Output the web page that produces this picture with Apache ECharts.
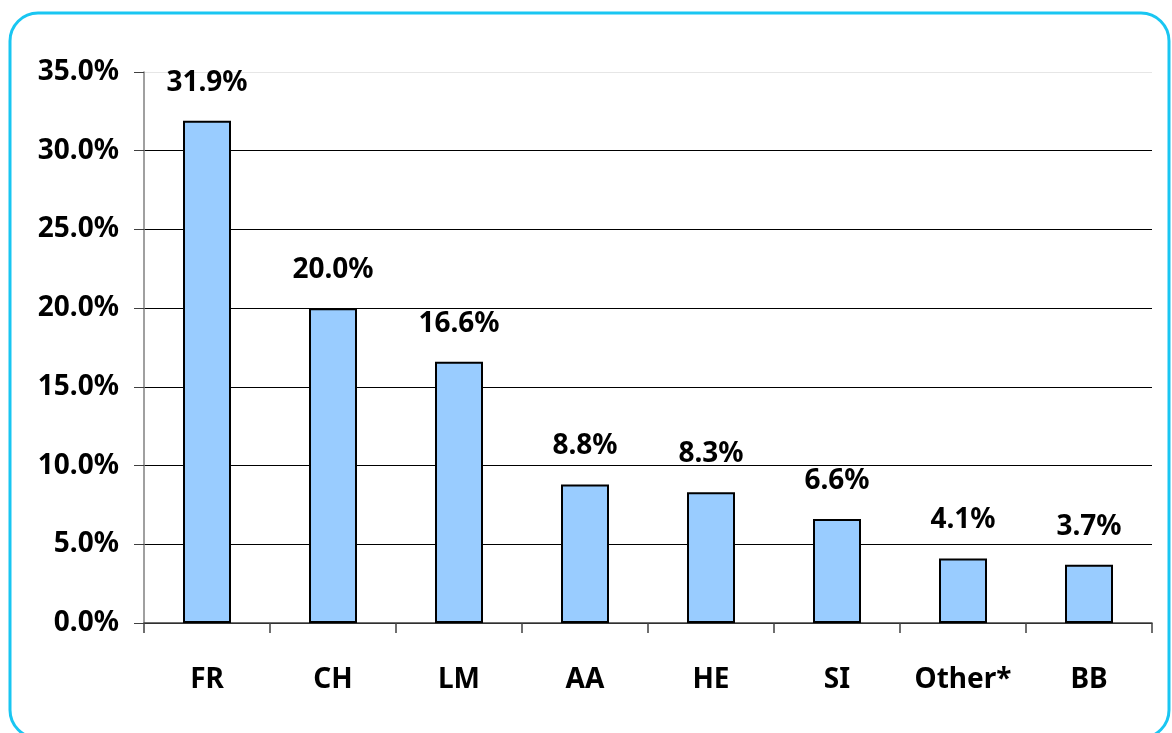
<!DOCTYPE html>
<html>
<head>
<meta charset="utf-8">
<script src="https://cdn.jsdelivr.net/npm/echarts@6/dist/echarts.min.js"></script>
<style>
  html, body { margin: 0; padding: 0; background: #fff; }
  #main { width: 1172px; height: 733px; }
</style>
</head>
<body>
<div id="main"></div>
<script>
// data
const categories = ['FR', 'CH', 'LM', 'AA', 'HE', 'SI', 'Other*', 'BB'];
const shares = [31.9, 20.0, 16.6, 8.8, 8.3, 6.6, 4.1, 3.7];
const yTicks = [0, 5, 10, 15, 20, 25, 30, 35];

const font = 'Noto Sans';
const chart = echarts.init(document.getElementById('main'), null, { renderer: 'canvas' });

// split lines are black except the top one which is faint
const splitColors = yTicks.map((v, i) => i === yTicks.length - 1 ? '#e6e6e6' : '#000');

chart.setOption({
  animation: false,
  backgroundColor: '#fff',
  graphic: [{
    type: 'rect',
    shape: { x: 10, y: 13, width: 1159, height: 725, r: 28 },
    style: { fill: 'none', stroke: '#19C6F2', lineWidth: 3 },
    z: 100
  }],
  grid: { left: 144, right: 20, top: 72, bottom: 110 },
  xAxis: {
    type: 'category',
    data: categories,
    axisLine: { lineStyle: { color: '#404040', width: 1.5 } },
    axisTick: { show: true, length: 10, lineStyle: { color: '#404040', width: 1.5 } },
    axisLabel: {
      margin: 43,
      color: '#000',
      fontFamily: font,
      fontWeight: 'bold',
      fontSize: 28
    }
  },
  yAxis: {
    type: 'value',
    min: yTicks[0],
    max: yTicks[yTicks.length - 1],
    interval: 5,
    axisLine: { show: true, lineStyle: { color: '#808080', width: 1.5 } },
    axisTick: { show: true, length: 10, lineStyle: { color: '#404040' } },
    splitLine: { lineStyle: { color: splitColors, width: 1 } },
    axisLabel: {
      margin: 25,
      color: '#000',
      fontFamily: font,
      fontWeight: 'bold',
      fontSize: 28,
      formatter: v => v.toFixed(1) + '%'
    }
  },
  series: [{
    type: 'bar',
    data: shares,
    barWidth: 48,
    itemStyle: { color: '#99CCFF', borderColor: '#000', borderWidth: 2 },
    label: {
      show: true,
      position: 'top',
      distance: 24,
      color: '#000',
      fontFamily: font,
      fontWeight: 'bold',
      fontSize: 28,
      formatter: p => p.value.toFixed(1) + '%'
    }
  }]
});
</script>
</body>
</html>
